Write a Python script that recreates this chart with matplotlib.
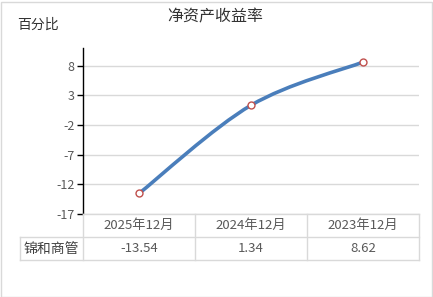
import matplotlib
matplotlib.use("Agg")
import matplotlib.pyplot as plt
from matplotlib.path import Path
from matplotlib.patches import PathPatch, Rectangle

plt.rcParams['font.family'] = ['Noto Sans CJK SC', 'DejaVu Sans']

categories = ["2025年12月", "2024年12月", "2023年12月"]
series_name = "锦和商管"
values = [-13.54, 1.34, 8.62]
value_labels = ["-13.54", "1.34", "8.62"]
yticks = [8, 3, -2, -7, -12, -17]

W, H = 433, 297
fig = plt.figure(figsize=(W / 100, H / 100), dpi=100)
fig.patches.append(Rectangle((0.5 / W, 0.5 / H), 1 - 2 / W, 1 - 2 / H, transform=fig.transFigure,
                             fill=False, edgecolor="#d9d9d9", linewidth=1.0))

left, right, top, bottom = 83, 419, 48, 214
ax = fig.add_axes([left / W, 1 - bottom / H, (right - left) / W, (bottom - top) / H])
ax.set_xlim(-0.5, len(categories) - 0.5)
ax.set_ylim(-17, 11)

ax.set_yticks(yticks)
ax.set_yticklabels([str(t) for t in yticks], color="#595959", fontsize=9)
ax.tick_params(axis="y", direction="out", length=4, width=1, color="black", pad=2)
ax.set_xticks([])
for t in yticks:
    ax.axhline(t, color="#d9d9d9", linewidth=1, zorder=0)
for s in ["top", "right", "bottom"]:
    ax.spines[s].set_visible(False)
ax.spines["left"].set_color("black")
ax.spines["left"].set_linewidth(1)

# smoothed line (Excel-like Bezier through the points)
xs = list(range(len(values)))
pts = list(zip(xs, values))
verts = [pts[0]]
codes = [Path.MOVETO]
for i in range(len(pts) - 1):
    p0 = pts[i - 1] if i > 0 else pts[i]
    p1 = pts[i]
    p2 = pts[i + 1]
    p3 = pts[i + 2] if i + 2 < len(pts) else pts[i + 1]
    c1 = (p1[0] + (p2[0] - p0[0]) / 6, p1[1] + (p2[1] - p0[1]) / 6)
    c2 = (p2[0] - (p3[0] - p1[0]) / 6, p2[1] - (p3[1] - p1[1]) / 6)
    verts += [c1, c2, p2]
    codes += [Path.CURVE4] * 3
ax.add_patch(PathPatch(Path(verts, codes), fill=False, edgecolor="#4a7ebb",
                       linewidth=2.6, capstyle="round", zorder=3))
ax.plot(xs, values, linestyle="none", marker="o", markersize=5,
        markerfacecolor="white", markeredgecolor="#c0504d", markeredgewidth=1, zorder=4)

fig.text(215 / W, 1 - 17 / H, "净资产收益率", ha="center", va="center", fontsize=11.5, color="#333333")
fig.text(17 / W, 1 - 25 / H, "百分比", ha="left", va="center", fontsize=10, color="#333333")

# data table under the plot
grid = "#d9d9d9"
col_x = [20, 83, 195, 307, 419]
row_y = [214, 237, 260]
def fx(x):
    return x / W
def fy(y):
    return 1 - y / H
for x in col_x[1:]:
    fig.add_artist(plt.Line2D([fx(x), fx(x)], [fy(214), fy(260)], color=grid, linewidth=1))
fig.add_artist(plt.Line2D([fx(20), fx(20)], [fy(237), fy(260)], color=grid, linewidth=1))
fig.add_artist(plt.Line2D([fx(83), fx(419)], [fy(214), fy(214)], color=grid, linewidth=1))
for y in row_y[1:]:
    fig.add_artist(plt.Line2D([fx(20), fx(419)], [fy(y), fy(y)], color=grid, linewidth=1))

for i, (cat, lab) in enumerate(zip(categories, value_labels)):
    cx = (col_x[i + 1] + col_x[i + 2]) / 2
    fig.text(fx(cx), fy(225.5), cat, ha="center", va="center", fontsize=9.5, color="#595959")
    fig.text(fx(cx), fy(248.5), lab, ha="center", va="center", fontsize=9.5, color="#595959")
fig.text(fx(51.5), fy(248.5), series_name, ha="center", va="center", fontsize=10, color="#404040")

fig.savefig("out.png", dpi=100)
